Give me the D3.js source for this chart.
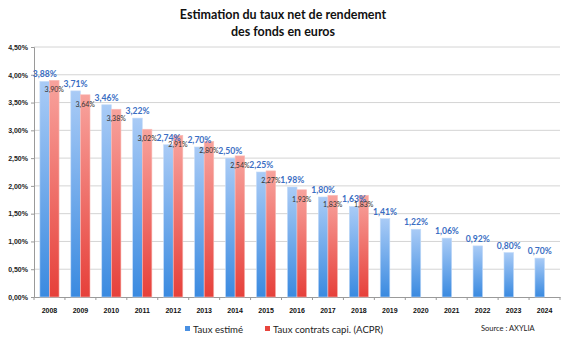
<!DOCTYPE html>
<html>
<head>
<meta charset="utf-8">
<script src="https://cdn.jsdelivr.net/npm/d3@7"></script>
<style>
  body { margin: 0; background: #fff; }
  svg { display: block; font-family: Lato, "Open Sans", sans-serif; }
</style>
</head>
<body>
<div id="chart"></div>
<script>
const years = ["2008","2009","2010","2011","2012","2013","2014","2015","2016","2017","2018","2019","2020","2021","2022","2023","2024"];
const tauxEstime = [3.88, 3.71, 3.46, 3.22, 2.74, 2.70, 2.50, 2.25, 1.98, 1.80, 1.63, 1.41, 1.22, 1.06, 0.92, 0.80, 0.70];
const tauxContrats = [3.90, 3.64, 3.38, 3.02, 2.91, 2.80, 2.54, 2.27, 1.93, 1.83, 1.83, null, null, null, null, null, null];
const yTicks = [0, 0.5, 1, 1.5, 2, 2.5, 3, 3.5, 4, 4.5];
const seriesNames = ["Taux estimé", "Taux contrats capi. (ACPR)"];

const width = 567, height = 343;
const margin = { top: 47, right: 7, bottom: 46, left: 34 };

const fmt = v => v.toFixed(2).replace(".", ",") + "%";

const svg = d3.select("#chart").append("svg").attr("width", width).attr("height", height);

// vertical gradients for the bars
const defs = svg.append("defs");
function gradient(id, top, bottom){
    const g = defs.append("linearGradient").attr("id", id)
        .attr("x1", 0).attr("y1", 0).attr("x2", 0).attr("y2", 1);
    g.append("stop").attr("offset", "0%").attr("stop-color", top);
    g.append("stop").attr("offset", "100%").attr("stop-color", bottom);
}
gradient("grad-blue", "#a9cbf6", "#3a8ae0");
gradient("grad-red", "#f8a39d", "#e6403a");

const x = d3.scaleBand().domain(years).range([margin.left, width - margin.right]).paddingInner(0.38).paddingOuter(0.19);
const x1 = d3.scaleBand().domain([0, 1]).range([0, x.bandwidth()]);
const y = d3.scaleLinear().domain([0, 4.5]).range([height - margin.bottom, margin.top]);

// title
const title = svg.append("g").attr("font-size", 12.5).attr("font-weight", "bold").attr("fill", "#111").attr("text-anchor", "middle");
title.append("text").attr("x", 283).attr("y", 19).text("Estimation du taux net de rendement");
title.append("text").attr("x", 283).attr("y", 36).text("des fonds en euros");

// horizontal gridlines
svg.append("g").selectAll("line").data(yTicks.filter(d => d > 0)).join("line")
    .attr("x1", margin.left).attr("x2", width - margin.right)
    .attr("y1", d => y(d)).attr("y2", d => y(d))
    .attr("stroke", "#d4d4d4").attr("stroke-width", 1);

// y axis
const yAxis = svg.append("g").attr("transform", `translate(${margin.left},0)`)
    .call(d3.axisLeft(y).tickValues(yTicks).tickFormat(fmt).tickSize(3).tickPadding(3));
yAxis.select(".domain").attr("stroke", "#9a9a9a");
yAxis.selectAll(".tick line").attr("stroke", "#9a9a9a");
yAxis.selectAll("text").attr("font-size", 7).attr("font-weight", "bold").attr("fill", "#222");

// x axis, tick marks sit between the categories
const xAxis = svg.append("g").attr("transform", `translate(0,${y(0)})`)
    .call(d3.axisBottom(x).tickSize(0).tickPadding(11));
xAxis.select(".domain").attr("stroke", "#9a9a9a");
xAxis.selectAll("text").attr("font-size", 7).attr("font-weight", "bold").attr("fill", "#111");
const step = x.step();
const firstEdge = x(years[0]) - x.paddingInner() * step / 2;
xAxis.append("g").selectAll("line").data(d3.range(years.length + 1)).join("line")
    .attr("x1", i => firstEdge + i * step)
    .attr("x2", i => firstEdge + i * step)
    .attr("y1", 0).attr("y2", 3)
    .attr("stroke", "#9a9a9a");

// bars
const bars = years.map((yr, i) => [
    { year: yr, s: 0, v: tauxEstime[i] },
    { year: yr, s: 1, v: tauxContrats[i] }
]);
const groups = svg.append("g").selectAll("g").data(bars).join("g")
    .attr("transform", d => `translate(${x(d[0].year)},0)`);
groups.selectAll("rect").data(d => d.filter(p => p.v != null)).join("rect")
    .attr("x", d => x1(d.s))
    .attr("width", x1.bandwidth())
    .attr("y", d => y(d.v))
    .attr("height", d => y(0) - y(d.v))
    .attr("fill", d => d.s === 0 ? "url(#grad-blue)" : "url(#grad-red)")
    .attr("stroke", d => d.s === 0 ? "#c3dbf8" : "#f9bdb8")
    .attr("stroke-width", 0.6);

// value labels
groups.selectAll("text.est").data(d => d.filter(p => p.s === 0)).join("text")
    .attr("class", "est")
    .attr("x", d => x1(d.s) + x1.bandwidth() / 2)
    .attr("y", d => y(d.v) - 4)
    .attr("text-anchor", "middle")
    .attr("font-size", 8.6).attr("font-weight", "bold").attr("fill", "#3a6ec3")
    .text(d => fmt(d.v));
groups.selectAll("text.acpr").data(d => d.filter(p => p.s === 1 && p.v != null)).join("text")
    .attr("class", "acpr")
    .attr("x", d => x1(d.s) + x1.bandwidth() / 2)
    .attr("y", d => y(d.v) + 12)
    .attr("text-anchor", "middle")
    .attr("font-size", 7).attr("fill", "#333")
    .text(d => fmt(d.v));

// legend
const legend = svg.append("g").attr("transform", "translate(185,330)");
const legendX = [0, 80];
const legendColors = ["#4a90e2", "#e8453e"];
seriesNames.forEach((name, i) => {
    const item = legend.append("g").attr("transform", `translate(${legendX[i]},0)`);
    item.append("rect").attr("x", 0).attr("y", -4).attr("width", 5).attr("height", 5).attr("fill", legendColors[i]);
    item.append("text").attr("x", 8).attr("y", 0).attr("dy", "0.35em")
        .attr("font-size", 9.6).attr("fill", "#222").text(name);
});

svg.append("text").attr("x", 481).attr("y", 331).attr("font-size", 7.5).attr("fill", "#222")
    .text("Source : AXYLIA");
</script>
</body>
</html>
